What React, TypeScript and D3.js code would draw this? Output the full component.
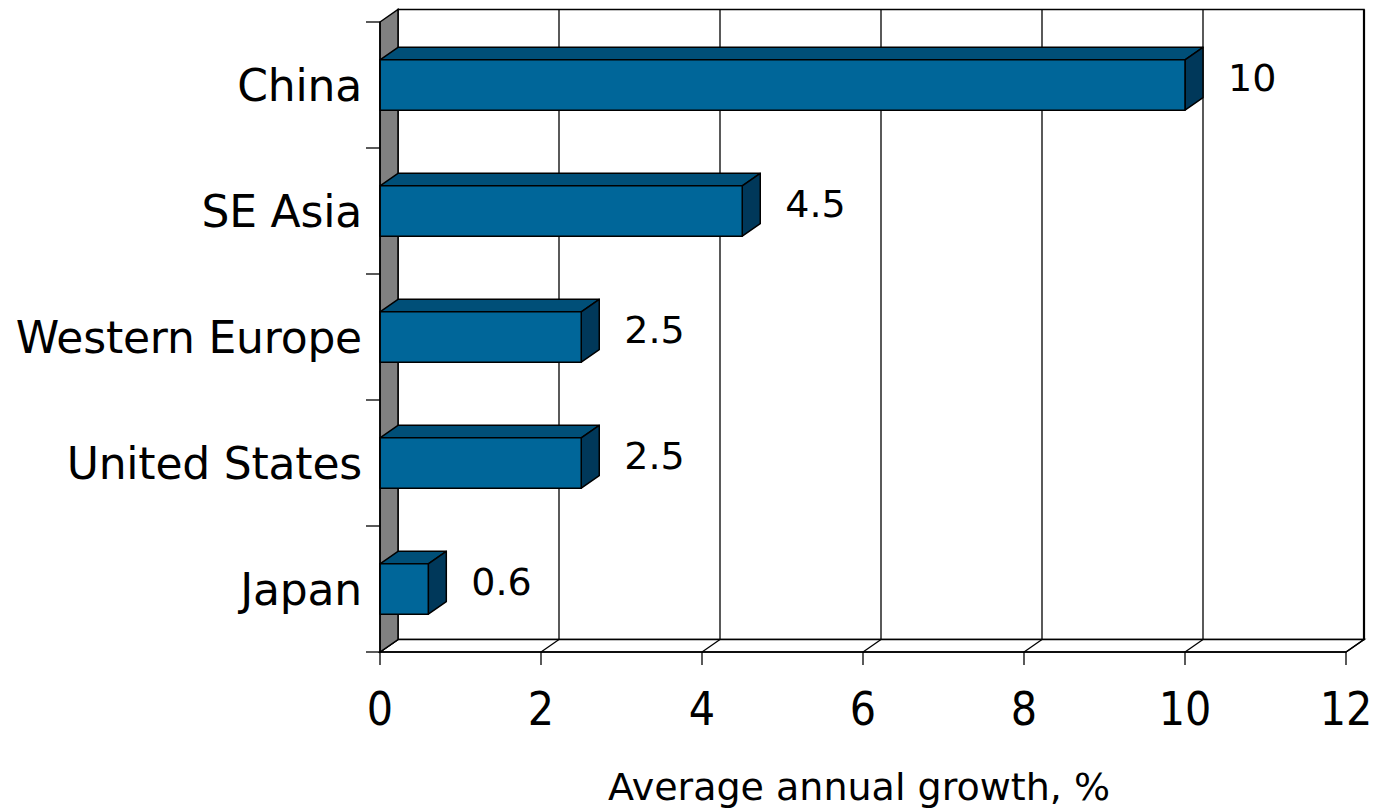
import React from "react";
import * as d3 from "d3";

const categories = ["China", "SE Asia", "Western Europe", "United States", "Japan"];
const values = [10, 4.5, 2.5, 2.5, 0.6];
const valueLabels = ["10", "4.5", "2.5", "2.5", "0.6"];
const xTicks = [0, 2, 4, 6, 8, 10, 12];
const axisTitle = "Average annual growth, %";

const W = 1384;
const H = 812;
const FONT = "'DejaVu Sans', sans-serif";
const FONT_C = "'DejaVu Sans Condensed', 'DejaVu Sans', sans-serif";

export default function App() {
  const x0 = 380, x1 = 1346;
  const yTop = 22, yBot = 652;
  const dx = 18, dy = -12.5;
  const x = d3.scaleLinear().domain([0, 12]).range([x0, x1]);
  const y = d3.scaleBand<string>().domain(categories).range([yTop, yBot]).padding(0);
  const barH = y.bandwidth() * 0.4;

  const front = "#006699";
  const topC = "#004f78";
  const sideC = "#00385a";
  const pts = (a: number[][]) => a.map((p) => p.join(",")).join(" ");

  const boundaries = categories.map((c) => y(c) as number).concat([yBot]);

  return (
    <svg width={W} height={H} style={{ position: "absolute", left: 0, top: 0, background: "#fff" }}>
      {/* back wall */}
      <rect x={x0 + dx} y={yTop + dy} width={x1 - x0} height={yBot - yTop} fill="#fff" stroke="#000" strokeWidth={1.5} />
      {/* gridlines on back wall */}
      {xTicks.slice(1, -1).map((t) => (
        <line key={"g" + t} x1={x(t) + dx} x2={x(t) + dx} y1={yTop + dy} y2={yBot + dy} stroke="#000" strokeWidth={1.3} />
      ))}
      <line x1={x1 + dx} x2={x1 + dx} y1={yTop + dy} y2={yBot + dy} stroke="#000" strokeWidth={2.2} />
      {/* floor */}
      <polygon points={pts([[x0, yBot], [x0 + dx, yBot + dy], [x1 + dx, yBot + dy], [x1, yBot]])} fill="#fff" stroke="#000" strokeWidth={1.5} />
      {xTicks.map((t) => (
        <line key={"f" + t} x1={x(t)} y1={yBot} x2={x(t) + dx} y2={yBot + dy} stroke="#000" strokeWidth={1.3} />
      ))}
      {/* left wall */}
      <polygon points={pts([[x0, yTop], [x0 + dx, yTop + dy], [x0 + dx, yBot + dy], [x0, yBot]])} fill="#808080" stroke="#000" strokeWidth={1.5} />
      {/* bars */}
      {categories.map((c, i) => {
        const yc = (y(c) as number) + y.bandwidth() / 2;
        const t = yc - barH / 2;
        const b = yc + barH / 2;
        const xv = x(values[i]);
        return (
          <g key={c} stroke="#000" strokeWidth={1.5} strokeLinejoin="round">
            <polygon points={pts([[x0, t], [x0 + dx, t + dy], [xv + dx, t + dy], [xv, t]])} fill={topC} />
            <polygon points={pts([[xv, t], [xv + dx, t + dy], [xv + dx, b + dy], [xv, b]])} fill={sideC} />
            <rect x={x0} y={t} width={xv - x0} height={barH} fill={front} />
          </g>
        );
      })}
      {/* axes */}
      <line x1={x0} x2={x0} y1={yTop} y2={yBot} stroke="#000" strokeWidth={1.5} />
      {boundaries.map((b, i) => (
        <line key={"yt" + i} x1={x0 - 14} x2={x0} y1={b} y2={b} stroke="#000" strokeWidth={1.3} />
      ))}
      <line x1={x0} x2={x1} y1={yBot} y2={yBot} stroke="#000" strokeWidth={1.5} />
      {xTicks.map((t) => (
        <line key={"xt" + t} x1={x(t)} x2={x(t)} y1={yBot} y2={yBot + 13} stroke="#000" strokeWidth={1.3} />
      ))}
      {/* tick labels */}
      {xTicks.map((t) => (
        <text key={"xl" + t} x={x(t)} y={725} textAnchor="middle" fontFamily={FONT_C} fontSize={46} fill="#000">
          {t}
        </text>
      ))}
      {categories.map((c) => (
        <text key={"cl" + c} x={362} y={(y(c) as number) + y.bandwidth() / 2} dy="0.36em" textAnchor="end" fontFamily={FONT} fontSize={44} letterSpacing={-0.2} fill="#000">
          {c}
        </text>
      ))}
      {/* value labels */}
      {categories.map((c, i) => (
        <text key={"vl" + c} x={x(values[i]) + dx + 25} y={(y(c) as number) + y.bandwidth() / 2 - 8} dy="0.36em" textAnchor="start" fontFamily={FONT} fontSize={38} fill="#000">
          {valueLabels[i]}
        </text>
      ))}
      <text x={859} y={800} textAnchor="middle" fontFamily={FONT} fontSize={38} fill="#000">
        {axisTitle}
      </text>
    </svg>
  );
}
